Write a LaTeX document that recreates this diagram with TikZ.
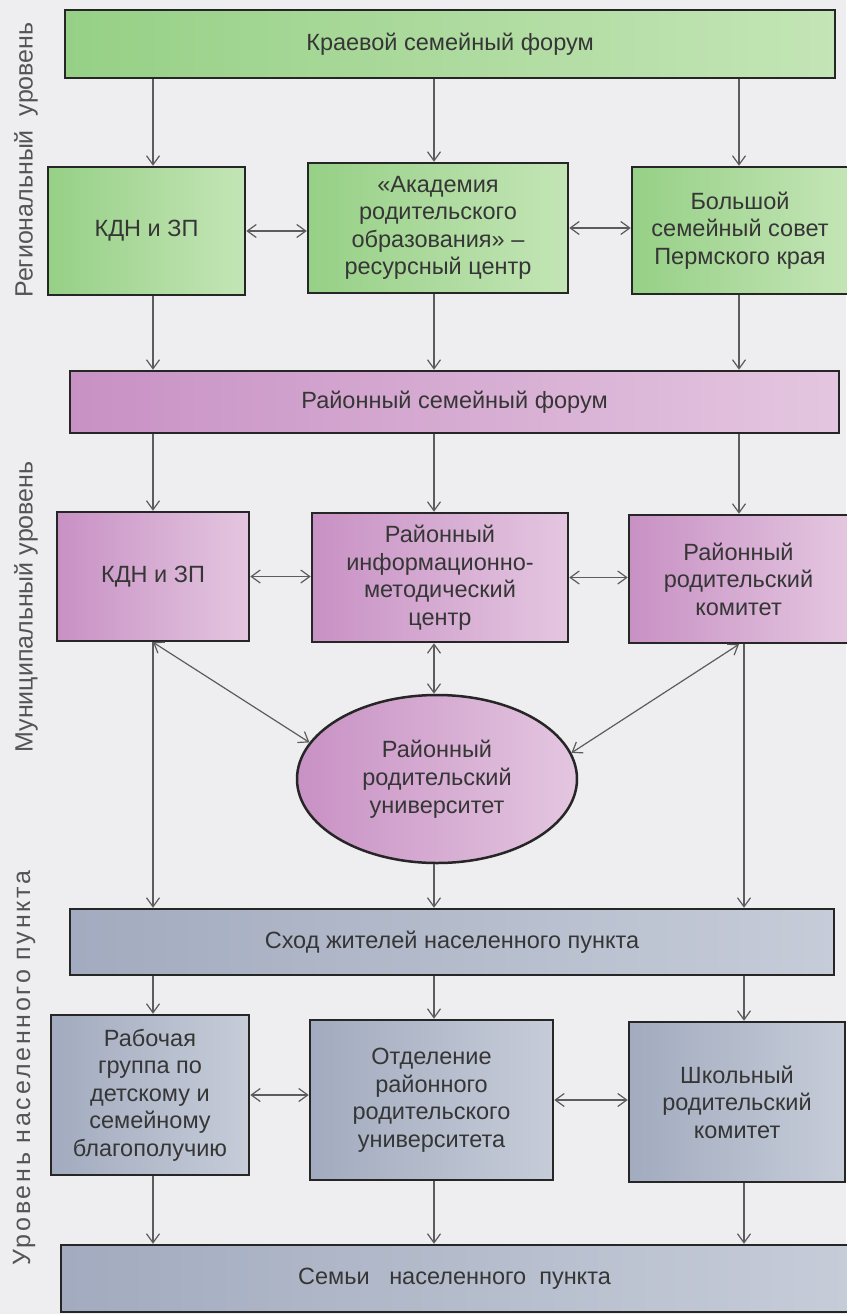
\documentclass[tikz,border=0pt]{standalone}
\usepackage{fontspec}
\setmainfont{Liberation Sans}
\usetikzlibrary{arrows.meta,shapes.geometric}
\definecolor{bgc}{HTML}{EEEEF0}
\definecolor{txt}{HTML}{363636}
\definecolor{edge}{HTML}{262626}
\definecolor{ln}{HTML}{5C5C5C}
\definecolor{gA}{HTML}{96D086}
\definecolor{gB}{HTML}{C4E5B6}
\definecolor{pA}{HTML}{C891C4}
\definecolor{pB}{HTML}{E4C6E0}
\definecolor{sA}{HTML}{A2ABBF}
\definecolor{sB}{HTML}{C6CCD8}
\begin{document}
\begin{tikzpicture}[x=1pt,y=1pt]
   \tikzset{every node/.style={font=\fontsize{23.5}{27.5}\selectfont,text=txt,align=center}}
   \tikzset{blk/.style={draw=edge,line width=2.5pt,inner sep=0pt}}
   \tikzset{green box/.style={blk,left color=gA,right color=gB}}
   \tikzset{lilac box/.style={blk,left color=pA,right color=pB}}
   \tikzset{slate box/.style={blk,left color=sA,right color=sB}}
   \tikzset{level label/.style={rotate=90,font=\fontsize{25}{30}\selectfont,text=txt!85}}
   \tikzset{tip/.tip={Straight Barb[length=9pt,width=13pt]}}
   \tikzset{arr/.style={draw=ln,line width=1.2pt,-tip}}
   \tikzset{darr/.style={draw=ln,line width=1.2pt,tip-tip}}
   \fill[bgc] (0,0) rectangle (846,-1314);
   \useasboundingbox (0,0) rectangle (846,-1314);
   \coordinate (c1) at (153,0);
   \coordinate (c2) at (434,0);
   \coordinate (c3) at (739,0);
   \coordinate (d3) at (744,0);
   \node[level label] (lvlR) at (26,-160) {Региональный~ уровень};
   \node[level label] (lvlM) at (26,-607) {Муниципальный уровень};
   \node[level label] (lvlV) at (24,-1068) {\addfontfeatures{LetterSpace=11}Уровень населенного пункта};
   \node[green box,minimum width=770,minimum height=68] (kraevoj) at (450,-44) {Краевой семейный форум};
   \node[green box,minimum width=197,minimum height=128] (kdnR) at (146.5,-231) {КДН и ЗП};
   \node[green box,minimum width=260,minimum height=130] (akad) at (438,-228) {«Академия\\родительского\\образования» –\\ресурсный центр};
   \node[green box,minimum width=216,minimum height=127] (bolshoj) at (740,-230.5) {Большой\\семейный совет\\Пермского края};
   \node[lilac box,minimum width=769,minimum height=62] (rajforum) at (454.5,-402) {Районный семейный форум};
   \node[lilac box,minimum width=192,minimum height=129] (kdnM) at (153,-576.5) {КДН и ЗП};
   \node[lilac box,minimum width=256,minimum height=129] (info) at (440,-577.5) {Районный\\информационно-\\методический\\центр};
   \node[lilac box,minimum width=219,minimum height=128] (komitet) at (738.5,-579) {Районный\\родительский\\комитет};
   \node[lilac box,ellipse,minimum width=280,minimum height=168,font=\fontsize{23.5}{28}\selectfont] (univ) at (437,-779) {Районный\\родительский\\университет};
   \node[slate box,minimum width=764,minimum height=66] (shod) at (452,-942) {Сход жителей населенного пункта};
   \node[slate box,minimum width=198,minimum height=160] (rabgr) at (150,-1095) {Рабочая\\группа по\\детскому и\\семейному\\благополучию};
   \node[slate box,minimum width=243,minimum height=160] (otdel) at (431.5,-1100) {Отделение\\районного\\родительского\\университета};
   \node[slate box,minimum width=216,minimum height=160] (shkol) at (737,-1102) {Школьный\\родительский\\комитет};
   \node[slate box,minimum width=787,minimum height=67] (semji) at (454.5,-1278.5) {Семьи~~ населенного~ пункта};
   \draw[arr] (kraevoj.south -| c1) -- (kdnR.north -| c1);
   \draw[arr] (kraevoj.south -| c2) -- (akad.north -| c2);
   \draw[arr] (kraevoj.south -| c3) -- (bolshoj.north -| c3);
   \draw[darr] (kdnR.east) -- (kdnR.east -| akad.west);
   \draw[darr] (akad.east) -- (akad.east -| bolshoj.west);
   \draw[arr] (kdnR.south -| c1) -- (rajforum.north -| c1);
   \draw[arr] (akad.south -| c2) -- (rajforum.north -| c2);
   \draw[arr] (bolshoj.south -| c3) -- (rajforum.north -| c3);
   \draw[arr] (rajforum.south -| c1) -- (kdnM.north -| c1);
   \draw[arr] (rajforum.south -| c2) -- (info.north -| c2);
   \draw[arr] (rajforum.south -| c3) -- (komitet.north -| c3);
   \draw[darr] (kdnM.east) -- (kdnM.east -| info.west);
   \draw[darr] (info.east) -- (info.east -| komitet.west);
   \draw[darr] (info.south -| c2) -- (univ.north -| c2);
   \draw[darr] (kdnM.south -| c1) -- (univ.164);
   \draw[darr] (komitet.south -| c3) -- (univ.11);
   \draw[arr] (kdnM.south -| c1) -- (shod.north -| c1);
   \draw[arr] (univ.south -| c2) -- (shod.north -| c2);
   \draw[arr] (komitet.south -| d3) -- (shod.north -| d3);
   \draw[arr] (shod.south -| c1) -- (rabgr.north -| c1);
   \draw[arr] (shod.south -| c2) -- (otdel.north -| c2);
   \draw[arr] (shod.south -| d3) -- (shkol.north -| d3);
   \draw[darr] (rabgr.east) -- (rabgr.east -| otdel.west);
   \draw[darr] (otdel.east) -- (otdel.east -| shkol.west);
   \draw[arr] (rabgr.south -| c1) -- (semji.north -| c1);
   \draw[arr] (otdel.south -| c2) -- (semji.north -| c2);
   \draw[arr] (shkol.south -| d3) -- (semji.north -| d3);
\end{tikzpicture}
\end{document}
